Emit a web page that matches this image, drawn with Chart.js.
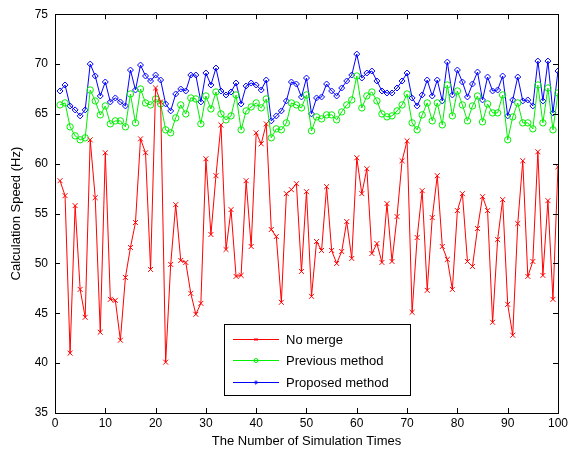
<!DOCTYPE html>
<html>
<head>
<meta charset="utf-8">
<script src="https://cdn.jsdelivr.net/npm/chart.js@4"></script>
<style>
  html, body { margin: 0; padding: 0; background: #fff; }
  #box { width: 571px; height: 454px; position: relative; }
</style>
</head>
<body>
<div id="box"><canvas id="chart"></canvas></div>
<script>
// Calculation speed over 100 simulation runs - three methods
const runs = Array.from({ length: 100 }, (_, i) => i + 1);

const noMerge = [
  58.3, 56.8, 41.0, 55.8, 47.4, 44.6, 62.4, 56.6, 43.1, 61.1,
  46.4, 46.3, 42.3, 48.6, 51.6, 54.1, 62.5, 61.1, 49.4, 67.6,
  66.2, 40.1, 49.9, 55.9, 50.3, 50.1, 47.0, 44.9, 46.0, 60.5,
  52.9, 58.8, 63.9, 51.4, 55.4, 48.7, 48.8, 58.3, 51.7, 63.1,
  62.0, 64.0, 53.4, 52.7, 46.1, 57.0, 57.4, 58.0, 49.2, 57.2,
  46.7, 52.2, 51.3, 57.7, 51.3, 50.0, 51.2, 54.2, 50.5, 60.6,
  57.0, 59.5, 51.0, 52.0, 50.1, 56.0, 50.2, 54.7, 60.3, 62.3,
  45.1, 52.6, 57.3, 47.3, 54.6, 58.8, 51.7, 50.4, 47.4, 55.3,
  57.0, 50.2, 49.7, 53.5, 56.7, 55.3, 44.1, 52.4, 56.4, 45.9,
  42.8, 54.0, 60.3, 48.7, 50.2, 61.2, 48.8, 56.3, 46.4, 59.7
];

const previous = [
  65.9, 66.1, 63.7, 62.8, 62.4, 62.6, 67.4, 66.3, 64.9, 65.8,
  64.0, 64.3, 64.3, 63.7, 67.0, 64.1, 67.5, 66.1, 65.9, 66.5,
  66.0, 63.4, 63.1, 64.6, 65.9, 65.0, 66.6, 66.5, 64.0, 66.8,
  65.5, 67.2, 65.0, 64.4, 64.8, 66.9, 63.4, 65.3, 65.7, 66.1,
  65.6, 66.5, 62.6, 63.5, 63.4, 64.1, 66.1, 65.9, 65.6, 66.9,
  63.3, 64.7, 64.5, 64.9, 64.9, 64.4, 65.2, 65.9, 66.4, 68.8,
  65.6, 66.8, 67.2, 66.3, 65.0, 64.7, 64.8, 65.3, 65.9, 67.0,
  64.1, 63.4, 64.9, 66.1, 64.3, 66.1, 63.9, 67.9, 64.8, 67.3,
  65.9, 64.3, 65.8, 66.8, 64.2, 66.0, 65.1, 65.1, 66.9, 62.4,
  64.7, 66.1, 64.1, 64.1, 63.5, 67.9, 64.1, 67.6, 63.4, 67.1
];

const proposed = [
  67.3, 67.9, 65.8, 65.4, 64.8, 65.4, 70.0, 68.8, 66.8, 68.2,
  66.2, 66.6, 66.2, 65.8, 69.4, 67.4, 69.9, 68.8, 68.3, 68.9,
  68.4, 66.0, 65.3, 67.0, 67.5, 67.3, 68.9, 68.9, 66.2, 69.1,
  67.9, 69.6, 67.3, 66.9, 67.2, 68.1, 66.0, 67.8, 68.1, 67.9,
  67.4, 68.4, 64.3, 64.8, 65.3, 66.3, 68.2, 68.0, 66.7, 68.6,
  65.0, 66.6, 66.7, 68.0, 67.3, 66.8, 67.6, 68.3, 68.9, 71.0,
  68.6, 69.1, 69.3, 68.3, 67.3, 67.1, 67.1, 67.6, 68.3, 69.1,
  66.6, 65.8, 66.9, 68.4, 66.8, 68.4, 66.3, 70.2, 66.9, 69.4,
  68.2, 66.7, 68.0, 69.2, 66.4, 68.7, 67.3, 67.4, 68.8, 64.8,
  66.4, 68.7, 66.3, 66.4, 65.8, 70.3, 66.3, 70.3, 65.1, 69.3
];

const FONT = 'Liberation Sans, Arial, Helvetica, sans-serif';

function pts(arr) { return arr.map((v, i) => ({ x: runs[i], y: v })); }

// box frame, inward ticks on all four sides (matlab look)
const framePlugin = {
  id: 'frame',
  afterDatasetsDraw(chart) {
    const { ctx, chartArea: a, scales } = chart;
    ctx.save();
    ctx.strokeStyle = '#000';
    ctx.lineWidth = 1;
    ctx.strokeRect(Math.round(a.left) + 0.5, Math.round(a.top) + 0.5,
      Math.round(a.right - a.left), Math.round(a.bottom - a.top));
    ctx.beginPath();
    scales.x.ticks.forEach(t => {
      const x = Math.round(scales.x.getPixelForValue(t.value)) + 0.5;
      ctx.moveTo(x, a.bottom); ctx.lineTo(x, a.bottom - 5);
      ctx.moveTo(x, a.top); ctx.lineTo(x, a.top + 5);
    });
    scales.y.ticks.forEach(t => {
      const y = Math.round(scales.y.getPixelForValue(t.value)) + 0.5;
      ctx.moveTo(a.left, y); ctx.lineTo(a.left + 5, y);
      ctx.moveTo(a.right, y); ctx.lineTo(a.right - 5, y);
    });
    ctx.stroke();
    ctx.restore();
  }
};

// legend box inside the plot, lower middle
const legendPlugin = {
  id: 'boxLegend',
  afterDraw(chart) {
    const ctx = chart.ctx;
    const L = 224, T = 324, W = 186, H = 71;
    ctx.save();
    ctx.fillStyle = '#fff';
    ctx.fillRect(L, T, W, H);
    ctx.strokeStyle = '#000';
    ctx.lineWidth = 1;
    ctx.strokeRect(L + 0.5, T + 0.5, W, H);
    ctx.font = '13px ' + FONT;
    ctx.textBaseline = 'middle';
    chart.data.datasets.forEach((ds, i) => {
      const y = Math.round(T + 15 + i * 21.3) + 0.5;
      ctx.strokeStyle = ds.borderColor;
      ctx.lineWidth = 1;
      ctx.beginPath();
      ctx.moveTo(L + 9, y); ctx.lineTo(L + 55, y);
      ctx.stroke();
      ctx.fillStyle = 'rgba(0,0,0,0)';
      Chart.helpers.drawPoint(ctx, {
        pointStyle: ds.pointStyle, radius: ds.pointRadius - 1.2, borderWidth: 1
      }, L + 32, y);
      ctx.fillStyle = '#000';
      ctx.fillText(ds.label, L + 62, y + 0.5);
    });
    ctx.restore();
  }
};

new Chart(document.getElementById('chart'), {
  type: 'line',
  data: {
    datasets: [
      { label: 'No merge', data: pts(noMerge), borderColor: '#ff0000', backgroundColor: 'rgba(0,0,0,0)',
        pointStyle: 'crossRot', pointRadius: 3.5, pointBorderColor: '#ff0000', borderWidth: 1, pointBorderWidth: 1 },
      { label: 'Previous method', data: pts(previous), borderColor: '#00f000', backgroundColor: 'rgba(0,0,0,0)',
        pointStyle: 'circle', pointRadius: 3.2, pointBorderColor: '#00f000', borderWidth: 1, pointBorderWidth: 1 },
      { label: 'Proposed method', data: pts(proposed), borderColor: '#0000ff', backgroundColor: 'rgba(0,0,0,0)',
        pointStyle: 'rectRot', pointRadius: 3, pointBorderColor: '#0000ff', borderWidth: 1, pointBorderWidth: 1 }
    ]
  },
  options: {
    responsive: true, maintainAspectRatio: false, animation: false,
    layout: { padding: { left: 0, right: 11, top: 13, bottom: 0 } },
    elements: { line: { tension: 0 } },
    plugins: { legend: { display: false }, tooltip: { enabled: false } },
    scales: {
      x: {
        type: 'linear', min: 0, max: 100,
        ticks: { stepSize: 10, color: '#000', padding: 3, font: { family: FONT, size: 12 }, maxRotation: 0 },
        grid: { display: false, drawTicks: false },
        border: { display: false },
        title: { display: true, text: 'The Number of Simulation Times', color: '#000',
          font: { family: FONT, size: 13 }, padding: { top: 0, bottom: 5 } },
        afterFit(s) { s.height = 41; }
      },
      y: {
        min: 35, max: 75,
        ticks: { stepSize: 5, color: '#000', padding: 7, font: { family: FONT, size: 12 } },
        grid: { display: false, drawTicks: false },
        border: { display: false },
        title: { display: true, text: 'Calculation Speed (Hz)', color: '#000',
          font: { family: FONT, size: 13 }, padding: { top: 9, bottom: 0 } },
        afterFit(s) { s.width = 55; }
      }
    }
  },
  plugins: [framePlugin, legendPlugin]
});
</script>
</body>
</html>
